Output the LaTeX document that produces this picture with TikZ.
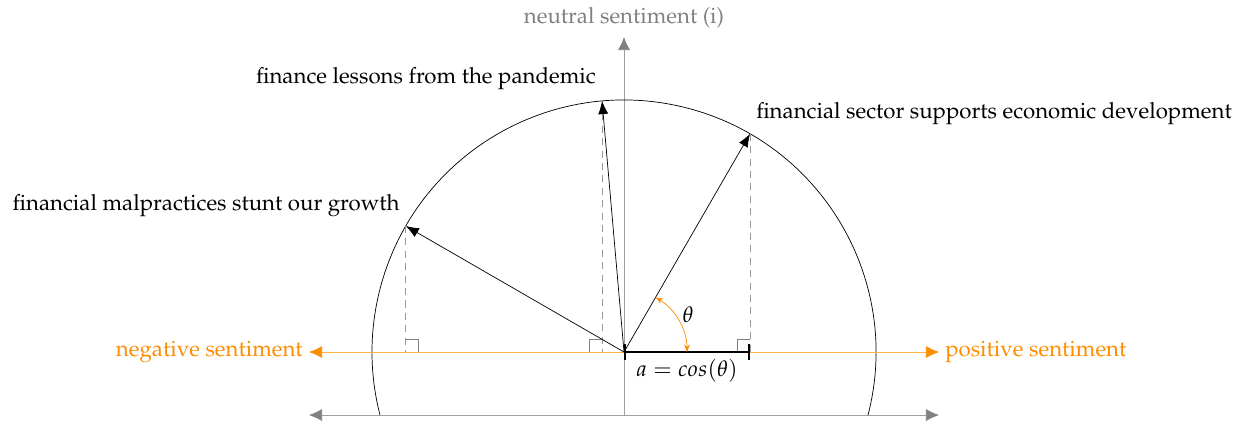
\documentclass[tikz,border=0pt]{standalone}
\usepackage[T1]{fontenc}
\usepackage{mathpazo}
\usetikzlibrary{arrows.meta}
\usetikzlibrary{positioning}
\definecolor{sentorange}{RGB}{255,140,0}
\tikzstyle{axis}=[draw=gray!75,{Latex[length=2.6mm,width=2.4mm,color=gray]}-{Latex[length=2.6mm,width=2.4mm,color=gray]}]
\tikzstyle{sentaxis}=[draw=sentorange!70,{Latex[length=2.6mm,width=2.4mm,color=sentorange]}-{Latex[length=2.6mm,width=2.4mm,color=sentorange]}]
\tikzstyle{vec}=[-{Latex[length=2.6mm,width=2mm]},draw=black]
\tikzstyle{proj}=[draw=gray!80,dash pattern=on 4pt off 3pt]
\tikzstyle{rmark}=[draw=gray]
\tikzstyle{lbl}=[font=\fontsize{12.55}{15}\selectfont]

\begin{document}
\begin{tikzpicture}
        \useasboundingbox (-12.38,-1.488) rectangle (12.30,6.984);
        \coordinate (O) at (0,0);
        \coordinate (botL) at (-6.25,-1.25);
        \coordinate (botR) at (6.25,-1.25);
        \coordinate (bot) at (0,-1.25);
        \coordinate (top) at (0,6.25);
        \coordinate (neg) at (-6.25,0);
        \coordinate (pos) at (6.25,0);
        \coordinate (v1) at (150:5);
        \coordinate (v2) at (95:5);
        \coordinate (v3) at (60:5);
        \coordinate (f1) at (v1 |- O);
        \coordinate (f2) at (v2 |- O);
        \coordinate (f3) at (v3 |- O);
        % axes
        \draw[axis] (botL) -- (botR);
        \draw[draw=gray!75,-{Latex[length=2.6mm,width=2.4mm,color=gray]}] (bot) -- (top);
        \node[lbl,gray,above=0.05 of top] (neutral) {neutral sentiment (i)};
        \draw ([shift={(-14.48:5)}]O) arc (-14.48:194.48:5);
        \draw[sentaxis] (neg) -- (pos);
        \node[lbl,sentorange,left=0pt of neg] (negl) {negative sentiment};
        \node[lbl,sentorange,right=0pt of pos] (posl) {positive sentiment};
        % projections
        \draw[proj] (v1) -- (f1);
        \draw[proj] (v2) -- (f2);
        \draw[proj] (v3) -- (f3);
        \draw[rmark] (f1) ++(0,0.25) -- ++(0.25,0) -- ++(0,-0.25);
        \draw[rmark] (f2) ++(0,0.25) -- ++(-0.25,0) -- ++(0,-0.25);
        \draw[rmark] (f3) ++(0,0.25) -- ++(-0.25,0) -- ++(0,-0.25);
        % vectors
        \draw[vec] (O) -- (v1);
        \draw[vec] (O) -- (v2);
        \draw[vec] (O) -- (v3);
        \node[lbl,above left=0.05 and 0pt of v1] (malp) {financial malpractices stunt our growth};
        \node[lbl,above left=0.1 and 0pt of v2] (pand) {finance lessons from the pandemic};
        \node[lbl,above right=0.05 and 0pt of v3] (sect) {financial sector supports economic development};
        % cosine and angle
        \draw[very thick,{Bar[width=3mm]}-{Bar[width=3mm]}] (O) -- node[lbl,below] (cosl) {$a = cos(\theta)$} (f3);
        \draw[sentorange,{Stealth[length=1.5mm]}-{Stealth[length=1.5mm]}] (1.25,0) arc (0:60:1.25);
        \node[lbl] (theta) at (30:1.47) {$\theta$};
\end{tikzpicture}
\end{document}
